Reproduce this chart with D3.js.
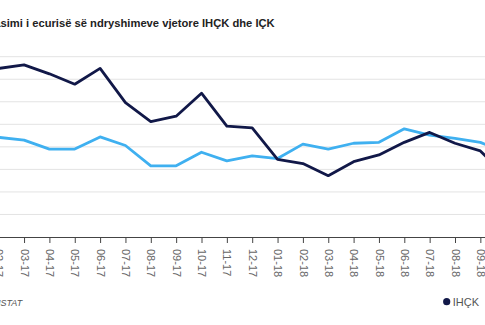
<!DOCTYPE html>
<html>
<head>
<meta charset="utf-8">
<script src="https://cdn.jsdelivr.net/npm/d3@7"></script>
<style>
  html, body { margin: 0; padding: 0; background: #ffffff; overflow: hidden; }
  svg { display: block; }
</style>
</head>
<body>
<div id="chart"></div>
<script>
// ---- data ----
const categories = ["02-17","03-17","04-17","05-17","06-17","07-17","08-17","09-17","10-17","11-17","12-17",
                    "01-18","02-18","03-18","04-18","05-18","06-18","07-18","08-18","09-18","10-18"];
const ihckValues = [3.74,3.82,3.62,3.39,3.74,2.98,2.56,2.68,3.19,2.46,2.42,
                    1.72,1.63,1.36,1.67,1.82,2.10,2.32,2.08,1.91,1.35];
const ickValues  = [2.21,2.15,1.95,1.95,2.22,2.03,1.58,1.58,1.88,1.69,1.80,
                    1.74,2.06,1.95,2.08,2.10,2.40,2.26,2.19,2.10,1.86];
const yTicks = [0,0.5,1,1.5,2,2.5,3,3.5,4];
const seriesNames = ["IHÇK","IÇK"];
const titleText = "Krahasimi i ecurisë së ndryshimeve vjetore IHÇK dhe IÇK";
const sourceText = "Burimi: INSTAT";

// ---- layout ----
const W = 485, H = 325;
const colors = {"IHÇK":"#111848","IÇK":"#3fb0f0"};
const svg = d3.select("#chart").append("svg").attr("width", W).attr("height", H);

const step = 25.35;
const x0 = -1.3;
const x = d3.scalePoint().domain(categories).range([x0, x0 + step*(categories.length-1)]);
const y = d3.scaleLinear().domain([0,4]).range([237, 56.7]);

// gridlines
svg.append("g").selectAll("line").data(yTicks.filter(t => t>0)).join("line")
  .attr("x1", -10).attr("x2", W+10)
  .attr("y1", d => y(d)).attr("y2", d => y(d))
  .attr("stroke", "#e3e3e3").attr("stroke-width", 1);

// x axis
const xAxis = svg.append("g").attr("transform", `translate(0,${y(0)})`)
  .call(d3.axisBottom(x).tickSize(6).tickPadding(0));
xAxis.select(".domain").attr("stroke", "#444").attr("d", `M-10,0.5H${W+10}`);
xAxis.selectAll(".tick line").attr("stroke", "#444");
xAxis.selectAll(".tick text")
  .attr("transform", "rotate(90)")
  .attr("x", 12).attr("y", 0).attr("dy", "0.35em")
  .attr("text-anchor", "start")
  .attr("fill", "#666")
  .style("font-family", "'Liberation Sans', Arial, sans-serif")
  .style("font-size", "11px");

// lines
const line = d3.line().x((d,i) => x(categories[i])).y(d => y(d));
[["IÇK", ickValues], ["IHÇK", ihckValues]].forEach(([name, vals]) => {
  svg.append("path").datum(vals)
    .attr("d", line)
    .attr("fill", "none")
    .attr("stroke", colors[name])
    .attr("stroke-width", 2.8)
    .attr("stroke-linejoin", "round");
});

// title (left part cut off by the frame)
const titleFont = "'Liberation Sans', Arial, sans-serif";
const titleSize = "11.2px";
const tmp = svg.append("text").style("font-family", titleFont).style("font-weight", "bold")
  .style("font-size", titleSize).text("Kraha");
const pre = tmp.node().getComputedTextLength();
tmp.remove();
svg.append("text").attr("x", 0.5 - pre).attr("y", 27)
  .style("font-family", titleFont).style("font-weight", "bold").style("font-size", titleSize)
  .attr("fill", "#222").text(titleText);

// source
const srcFont = "'Liberation Sans', Arial, sans-serif";
const tmp2 = svg.append("text").style("font-family", srcFont).style("font-style", "italic")
  .style("font-size", "9px").text("Burimi: IN");
const pre2 = tmp2.node().getComputedTextLength();
tmp2.remove();
svg.append("text").attr("x", 0.5 - pre2).attr("y", 306)
  .style("font-family", srcFont).style("font-style", "italic").style("font-size", "9px")
  .attr("fill", "#555").text(sourceText);

// legend
const legend = svg.append("g").attr("transform", "translate(446.7,301.7)");
seriesNames.forEach((name, i) => {
  const g = legend.append("g").attr("transform", `translate(${i*45},0)`);
  g.append("circle").attr("r", 3.6).attr("fill", colors[name]);
  g.append("text").attr("x", 6).attr("y", 4)
    .style("font-family", "'Liberation Sans', Arial, sans-serif")
    .style("font-size", "11px").attr("fill", "#555").text(name);
});
</script>
</body>
</html>
